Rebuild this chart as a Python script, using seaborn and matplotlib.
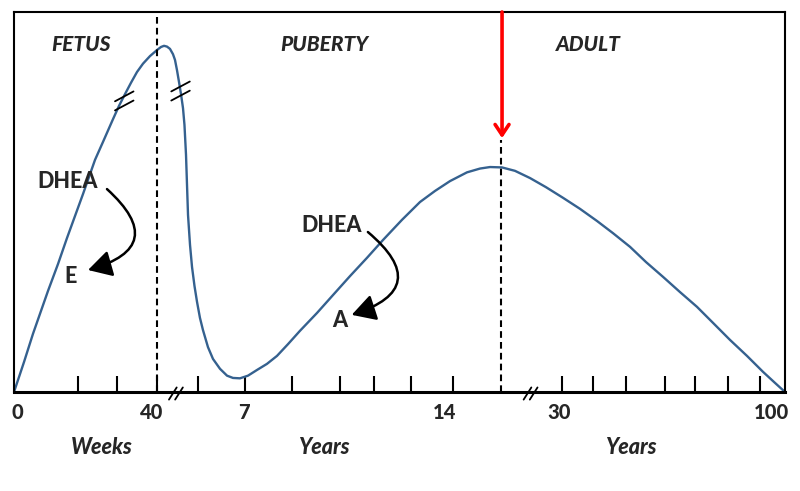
import matplotlib
matplotlib.use("Agg")
import matplotlib.pyplot as plt
import pandas as pd
import seaborn as sns

# curve: x = position along the axis (0-100), y = relative DHEA level (0-100)
curve_x = [0, 1.30, 2.46, 4.41, 5.71, 6.87, 7.91, 8.95, 10.51, 11.54, 12.84, 13.62,
           14.40, 15.18, 15.95, 16.73, 17.64, 18.55, 19.07, 19.46, 19.84, 20.23,
           20.62, 20.88, 21.14, 21.40, 21.66, 21.92, 22.11, 22.31, 22.44, 22.57,
           22.83, 23.09, 23.41, 23.74, 24.12, 24.51, 25.16, 25.81, 26.72, 27.63,
           28.40, 29.31, 30.35, 31.52, 32.81, 34.11, 35.54, 37.09, 39.30, 41.37,
           43.58, 45.78, 47.86, 50.32, 52.66, 54.60, 56.55, 58.75, 60.44, 61.74,
           63.29, 64.98, 66.93, 69.00, 71.21, 73.41, 75.62, 77.69, 79.90, 81.97,
           84.18, 86.38, 88.59, 90.66, 92.87, 95.07, 97.15, 98.70, 100]
curve_y = [0, 7.9, 15.3, 26.6, 33.7, 40.5, 46.3, 52.1, 61.1, 65.8, 71.8, 75.3,
           78.4, 81.4, 84.2, 86.4, 88.4, 90.0, 90.8, 91.1, 90.9, 90.3,
           88.9, 87.4, 84.7, 81.6, 78.4, 74.7, 70.3, 62.4, 54.5, 46.6,
           38.7, 32.9, 27.9, 23.7, 19.5, 16.3, 11.8, 8.7, 6.1, 4.3,
           3.7, 3.6, 4.3, 5.8, 7.4, 9.5, 12.6, 16.1, 20.8, 25.5,
           30.5, 35.3, 40.0, 45.3, 50.0, 52.9, 55.5, 57.8, 58.8, 59.2,
           59.1, 58.2, 56.3, 53.9, 51.1, 48.2, 45.0, 41.8, 38.2, 34.2,
           30.3, 26.3, 22.4, 18.2, 13.7, 9.5, 5.3, 2.4, 0]

tick_pos = [8.3, 13.4, 18.5, 23.9, 30.0, 36.1, 42.3, 46.7, 51.5, 56.9,
            71.1, 75.1, 79.4, 84.4, 88.3, 92.6, 96.8]
tick_labels = ["0", "40", "7", "14", "30", "100"]
tick_label_x = [0.4, 17.9, 29.8, 55.9, 70.7, 98.3]
unit_labels = ["Weeks", "Years", "Years"]
unit_label_x = [11.4, 40.2, 80.0]
stage_labels = ["FETUS", "PUBERTY", "ADULT"]
stage_label_x = [8.7, 40.2, 74.5]

birth_x = 18.5
peak_x = 63.2
axis_breaks = [21.0, 67.0]
curve_breaks = [(14.3, 76.6), (21.6, 79.2)]

blue = "#35618F"
df = pd.DataFrame({"x": curve_x, "y": curve_y})

sns.set_style("white")
plt.rcParams["font.family"] = ["Lato", "DejaVu Sans"]

fig = plt.figure(figsize=(8, 4.91), dpi=100)
ax = fig.add_axes([14 / 800, 99 / 491, 771 / 800, 380 / 491])
sns.lineplot(data=df, x="x", y="y", ax=ax, color=blue, linewidth=1.7, sort=False)
ax.set_xlim(0, 100)
ax.set_ylim(0, 100)
ax.set_xlabel("")
ax.set_ylabel("")
ax.set_yticks([])
ax.set_xticks(tick_pos)
ax.set_xticklabels([])
ax.tick_params(axis="x", direction="in", length=11.5, width=1.5, color="black", bottom=True)
for side in ["left", "top", "right"]:
    ax.spines[side].set_color("black")
    ax.spines[side].set_linewidth(1.5)
ax.spines["bottom"].set_color("black")
ax.spines["bottom"].set_linewidth(2.2)

# dashed guides
dash = (0, (3.2, 2))
ax.axvline(birth_x, color="black", linestyle=dash, linewidth=1.5)
ax.plot([peak_x, peak_x], [0, 66.3], color="black", linestyle=dash, linewidth=1.5)

# red arrow marking peak
ax.annotate("", xy=(peak_x + 0.1, 66.8), xytext=(peak_x + 0.1, 100),
            arrowprops=dict(arrowstyle="->,head_length=0.75,head_width=0.5",
                            color="red", lw=2.6, shrinkA=0, shrinkB=0))

# axis break marks
for bx in axis_breaks:
    for off in (-0.4, 0.4):
        ax.plot([bx + off - 0.5, bx + off + 0.5], [-2.0, 1.2], color="black",
                linewidth=1.3, clip_on=False)

# curve break marks
for cx, cy in curve_breaks:
    for off in (-1.2, 1.2):
        ax.plot([cx - 1.2, cx + 1.2], [cy + off - 1.3, cy + off + 1.3],
                color="black", linewidth=1.3)

weight = 900

# stage labels
for lab, xx in zip(stage_labels, stage_label_x):
    ax.text(xx, 91.5, lab, ha="center", va="center", fontsize=15,
            fontweight=weight, fontstyle="italic")

# tick labels and units
for lab, xx in zip(tick_labels, tick_label_x):
    ax.text(xx, -5.4, lab, ha="center", va="center", fontsize=14.5,
            fontweight=weight, clip_on=False)
for lab, xx in zip(unit_labels, unit_label_x):
    ax.text(xx, -14.7, lab, ha="center", va="center", fontsize=15.5,
            fontweight=weight, fontstyle="italic", clip_on=False)

# conversion annotations
ax.text(6.9, 55.3, "DHEA", ha="center", va="center", fontsize=15.5, fontweight=weight)
ax.text(7.4, 30.3, "E", ha="center", va="center", fontsize=15.5, fontweight=weight)
ax.text(41.2, 43.7, "DHEA", ha="center", va="center", fontsize=15.5, fontweight=weight)
ax.text(42.3, 18.7, "A", ha="center", va="center", fontsize=15.5, fontweight=weight)

arrow_kw = dict(arrowstyle="-|>,head_length=0.8,head_width=0.45", color="black",
                lw=1.8, shrinkA=0, shrinkB=0, mutation_scale=18)
ax.annotate("", xy=(9.6, 32.1), xytext=(12.06, 53.4),
            arrowprops=dict(connectionstyle="arc3,rad=-0.9", **arrow_kw))
ax.annotate("", xy=(43.8, 20.3), xytext=(45.9, 42.1),
            arrowprops=dict(connectionstyle="arc3,rad=-0.9", **arrow_kw))

fig.savefig("out.png", dpi=100)
plt.close(fig)
